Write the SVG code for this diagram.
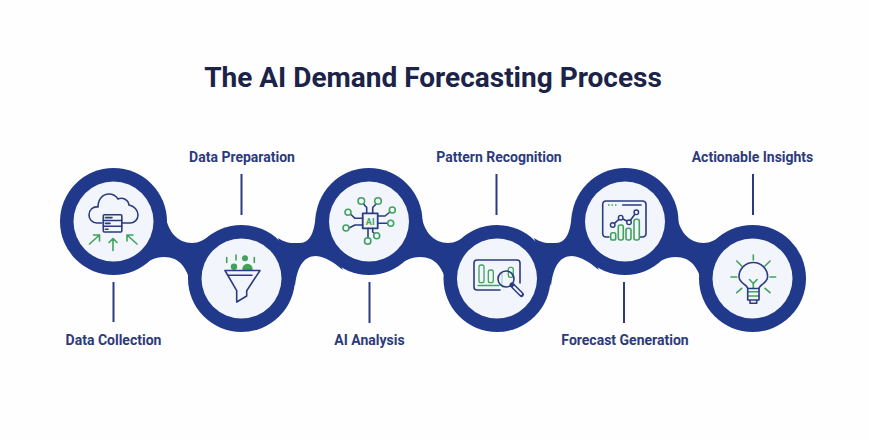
<svg xmlns="http://www.w3.org/2000/svg" width="869" height="440" viewBox="0 0 869 440">
<style>
.band{fill:#20398a}
.disc{fill:#f3f5fc}
.ring{fill:#20398a}
.lead{stroke:#2a3a80;stroke-width:2;fill:none}
.d{fill:none;stroke:#2b3b7f;stroke-width:1.6;stroke-linecap:round;stroke-linejoin:round}
.g{fill:none;stroke:#3fa35c;stroke-width:1.6;stroke-linecap:round;stroke-linejoin:round}
.gf{fill:#3fa35c}
.label{font-family:"Roboto","Liberation Sans",sans-serif;font-weight:700;font-size:14px;fill:#2c3a7c;text-anchor:middle}
.title{font-family:"Roboto","Liberation Sans",sans-serif;font-weight:700;font-size:28px;fill:#1b2348;text-anchor:middle}
</style>
<defs>
<path id="neckDown" d="M165,212 C167,232 178,243 192,243 C199,243 204,240 212,234 L192,290 C188,268 180,257 164,257 C155,257 147,261 134,270 Z"/>
<path id="neckUp" d="M278,238 C287,244 293,243 300,243 C310,243 315,232 316,212 L343,270 C333,262 326,257 316,256 C303,256 297,268 295,286 Z"/>
</defs>
<rect width="869" height="440" fill="#fefefe"/>
<text class="title" x="433" y="87">The AI Demand Forecasting Process</text>
<g id="connectors">
<use href="#neckDown" class="band"/>
<use href="#neckUp" class="band"/>
<use href="#neckDown" class="band" x="256"/>
<use href="#neckUp" class="band" x="256"/>
<use href="#neckDown" class="band" x="511.5"/>
<path class="lead" d="M113.500,282V322M241.500,174V215M369.500,282V323M496.500,174V215M624,282V323M753,174V215"/>
</g>
<g id="node-data-collection">
<circle class="ring" cx="113.500" cy="221.500" r="53.500"/><circle class="disc" cx="113.500" cy="221.500" r="40"/>
<path class="d" d="M102,223H97C92,223 89,219 89,215C89,210 93,206 98,207C98,199 103,194 109,194C113,194 116,196 118,199C122,197 128,199 129,205C134,206 138,210 138,215C138,220 134,223 130,223H122"/>
<rect x="103.300" y="214.700" width="18.500" height="17.300" rx="1" fill="#f3f5fc" class="d"/>
<path class="d" d="M103.300,220.500H121.800M103.300,226.300H121.800" stroke-width="1"/>
<path class="d" stroke-width="1" d="M105.500,217.600H112M105.500,223.400H110M105.500,229.200H108"/>
<path class="g" d="M113,250.500V238.500M109,242.500L113,238.500L117,242.500M89.500,244L99.500,235M93.500,235H99.500V241M137,244L127,235M133,235H127V241"/>
<text class="label" x="113.500" y="345">Data Collection</text>
</g>
<g id="node-data-preparation">
<circle class="ring" cx="241.500" cy="278.500" r="53.500"/><circle class="disc" cx="241.500" cy="278.500" r="40"/>
<circle class="gf" cx="234" cy="266.700" r="3.200"/><circle class="gf" cx="245" cy="258.300" r="3"/><circle class="gf" cx="247.500" cy="269" r="5.200"/>
<path class="g" d="M226.700,257.500V262.500M236,255V260M254.300,257.500V262.500"/>
<path class="d" fill="#f3f5fc" d="M225,270.500H260L246.700,290.700V296L236.700,302V290.700Z" style="fill:#f3f5fc"/>
<path class="d" d="M228.500,275.200H252"/>
<text class="label" x="242" y="162">Data Preparation</text>
</g>
<g id="node-ai-analysis">
<circle class="ring" cx="369" cy="221.500" r="53.500"/><circle class="disc" cx="369" cy="221.500" r="40"/>
<path class="d" stroke-width="1.300" d="M366.700,213.300V207.500L363.500,204M372.700,213.300V207.500L376,204M362.700,218.300H355L351,214.500M377.700,216H385L390,212M362.700,225H355L349,228M377.700,223.300H387.500M368,228.300V238M372.700,228.300V232L374.500,233.500"/>
<rect class="d" x="362.700" y="213.300" width="15" height="15" style="stroke-width:1.800"/>
<g class="g"><circle cx="361.300" cy="201" r="3.300"/><circle cx="378" cy="201" r="3.300"/><circle cx="348" cy="212.300" r="3"/><circle cx="392.300" cy="210" r="3"/><circle cx="346" cy="228" r="3"/><circle cx="390.700" cy="223.300" r="3"/><circle cx="367.700" cy="241" r="3.200"/><circle cx="376.700" cy="235.700" r="3"/></g>
<text x="370.200" y="224.700" font-family="Roboto,'Liberation Sans',sans-serif" font-size="9" font-weight="700" fill="#3fa35c" text-anchor="middle">AI</text>
<text class="label" x="369.500" y="345">AI Analysis</text>
</g>
<g id="node-pattern-recognition">
<circle class="ring" cx="497" cy="278.500" r="53.500"/><circle class="disc" cx="497" cy="278.500" r="40"/>
<path class="d" d="M500,290H477A3,3 0 0 1 474,287V263A3,3 0 0 1 477,260H517A3,3 0 0 1 520,263V283"/>
<g class="g" style="stroke-width:1.300"><rect x="479" y="265" width="5" height="17.700" rx="2"/><rect x="488.300" y="270" width="5" height="12.700" rx="2"/><rect x="508.300" y="267.300" width="5" height="10" rx="2"/><path d="M478,285.500H499"/><path style="opacity:.35" d="M502,273V284"/></g>
<circle class="d" cx="506" cy="279" r="8"/>
<path d="M512,285L521.500,294.500" stroke="#2b3b7f" stroke-width="5" stroke-linecap="round"/>
<path d="M514,287L521,294" stroke="#f3f5fc" stroke-width="2" stroke-linecap="round"/>
<text class="label" x="499" y="162">Pattern Recognition</text>
</g>
<g id="node-forecast-generation">
<circle class="ring" cx="625" cy="221.500" r="53.500"/><circle class="disc" cx="625" cy="221.500" r="40"/>
<path class="d" d="M609,237H606A3.500,3.500 0 0 1 602.700,234V204.500A3.500,3.500 0 0 1 606,201H643A3.500,3.500 0 0 1 646,204.500V234A3.500,3.500 0 0 1 643,237H640"/>
<path class="d" d="M622.700,205H641"/>
<path class="g" stroke-dasharray="1.500 2" d="M608,205H617" style="stroke-linecap:butt"/>
<g class="g"><rect x="610.700" y="232.700" width="5" height="7.300" rx="1.800"/><rect x="618.300" y="225" width="5" height="15" rx="2"/><rect x="626" y="228.300" width="5" height="11.700" rx="2"/><rect x="634" y="219.300" width="5.300" height="20.700" rx="2"/></g>
<path class="d" d="M612.700,225L620.700,217.700L629,222.300L636.300,212.300"/>
<g class="d" style="fill:#f3f5fc;stroke-width:1.400"><circle cx="612.700" cy="225" r="2.300"/><circle cx="620.700" cy="217.700" r="2.300"/><circle cx="629" cy="222.300" r="2.300"/><circle cx="636.300" cy="212.300" r="2.300"/></g>
<text class="label" x="625" y="345">Forecast Generation</text>
</g>
<g id="node-actionable-insights">
<circle class="ring" cx="752.500" cy="278.500" r="53.500"/><circle class="disc" cx="752.500" cy="278.500" r="40"/>
<path class="d" d="M747.700,288.500C747.700,285 739,283 739,276.700A14.300,14.300 0 0 1 767.600,276.700C767.600,283 759,285 759,288.500"/>
<path class="g" d="M753.300,255V260M765,266L770,261M770,277H775.700M765,288.300L770,292.700M741.700,266L736.700,261M736.700,277H731M741.700,288.300L736.700,292.700M753.300,288V283.500M749.500,279.500L753.300,283.500L757,279.500M747.700,291.700H759M747.700,296H759"/>
<path class="d" d="M747.700,288.500H759V300H747.700ZM750,300V303.300H756.700V300" />
<text class="label" x="752.500" y="162">Actionable Insights</text>
</g>
</svg>
